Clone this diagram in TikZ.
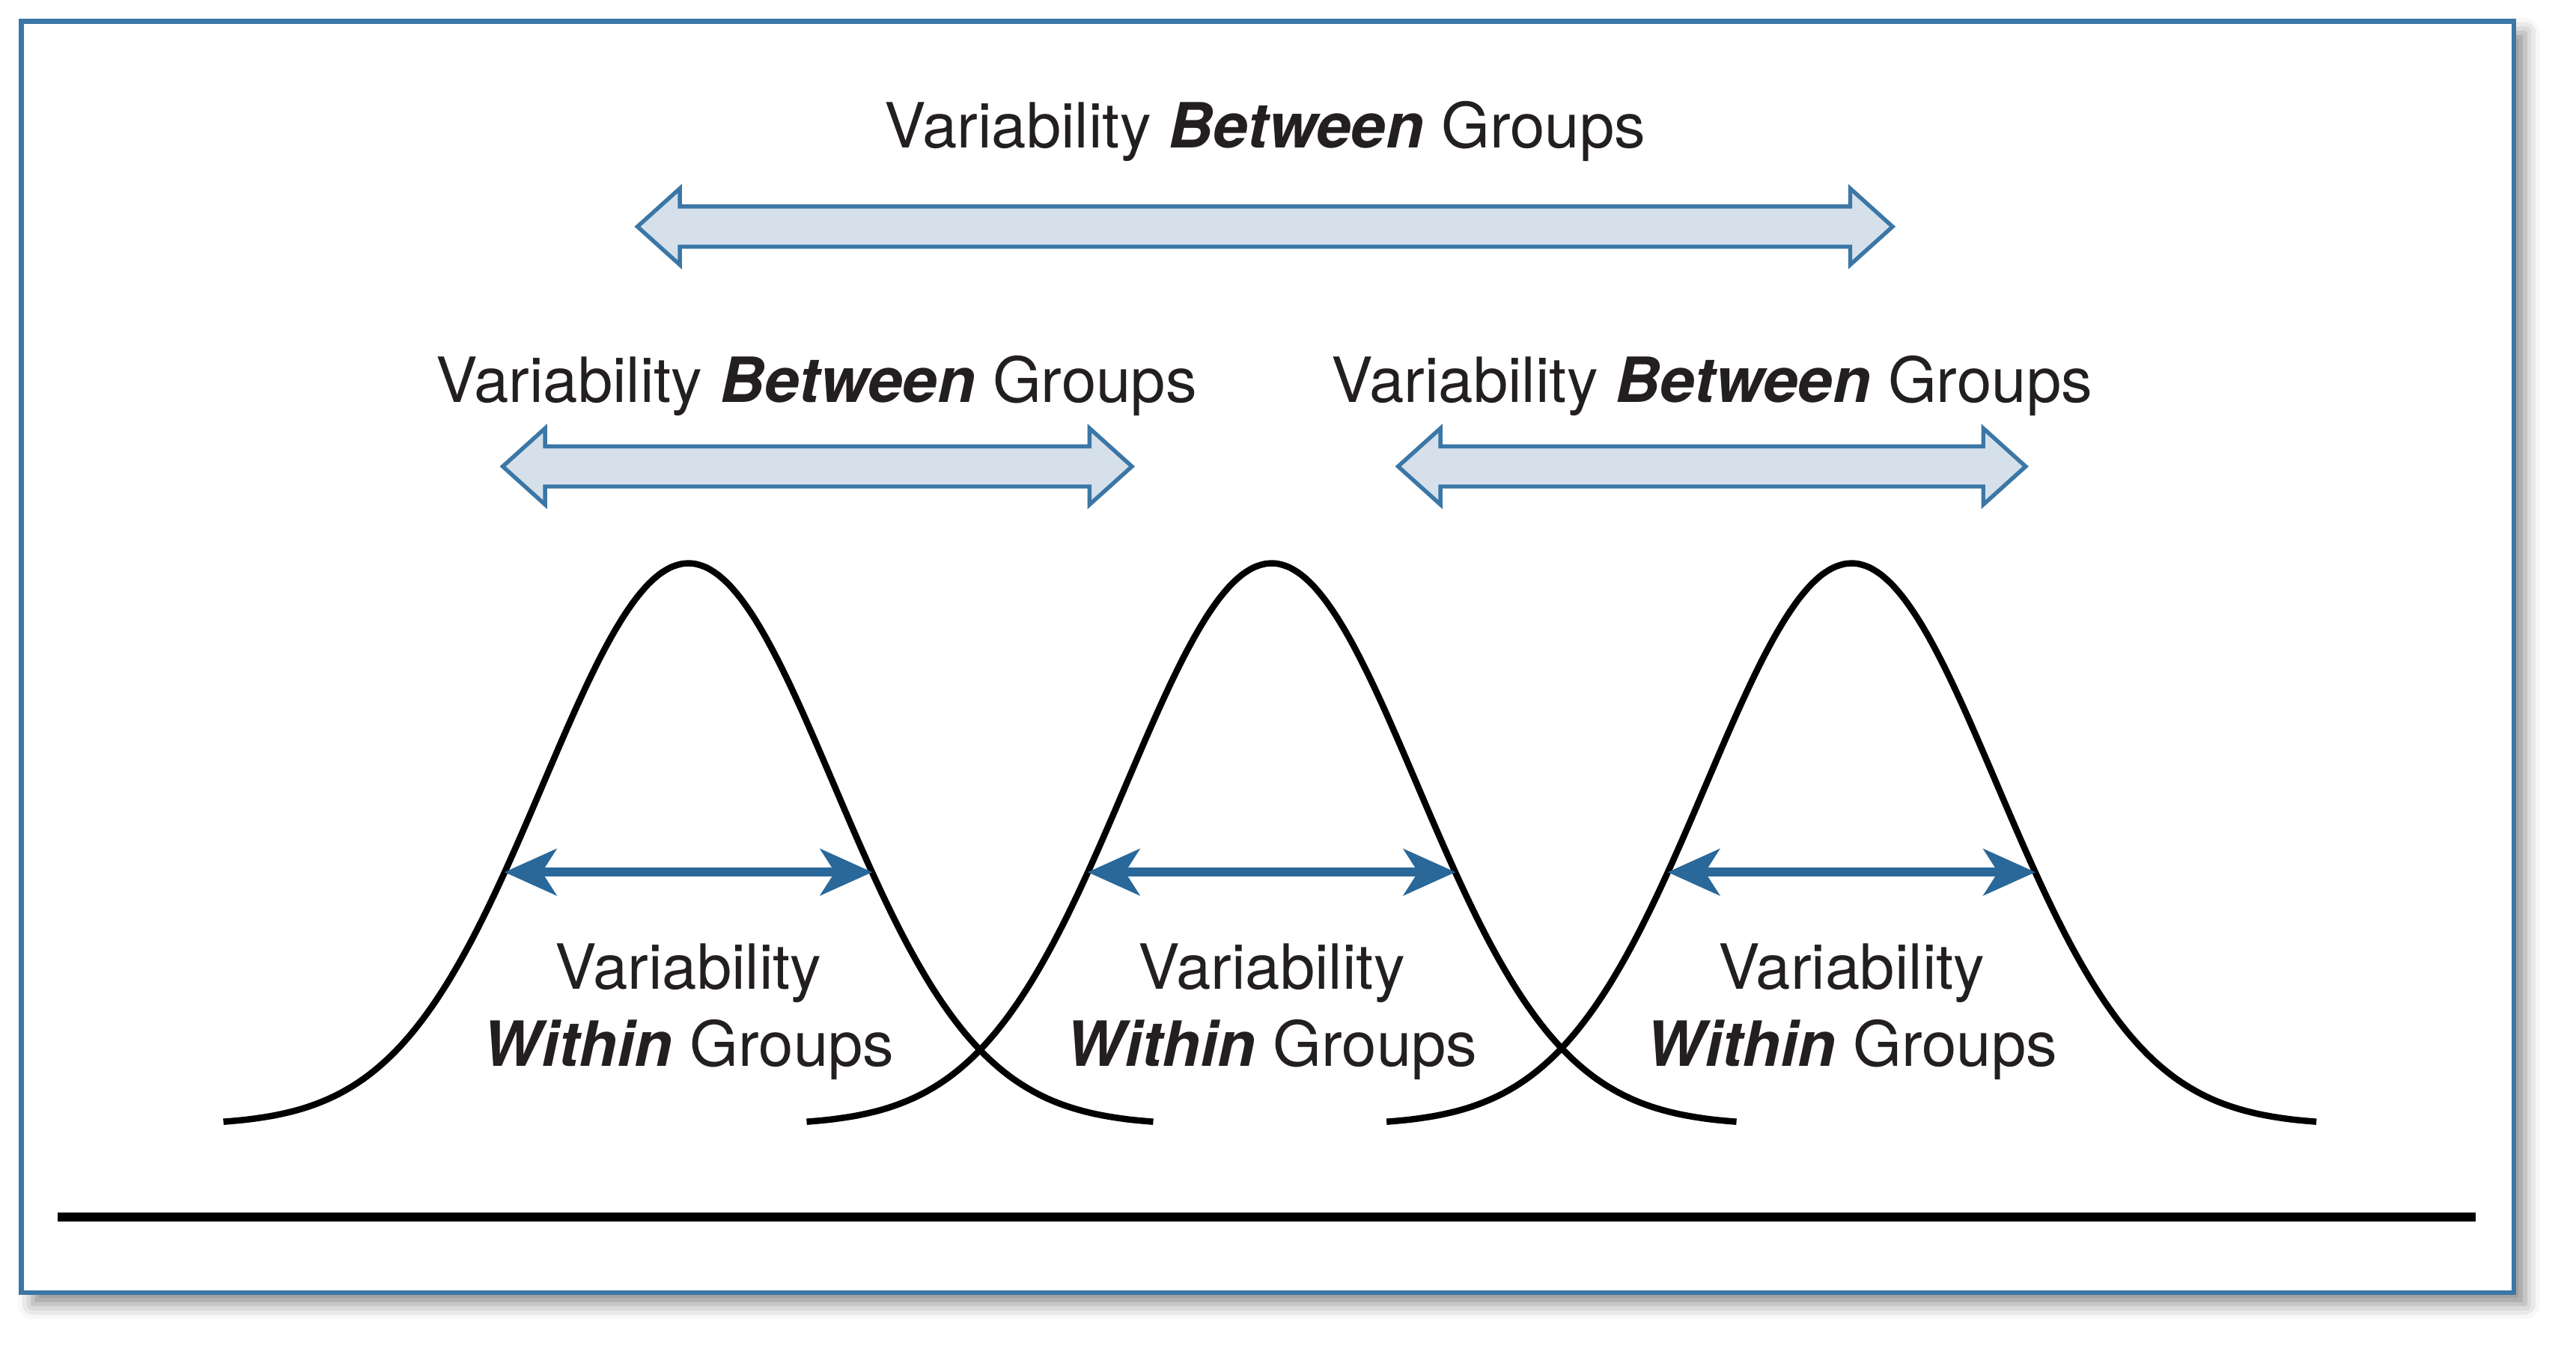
\documentclass[tikz,border=0pt]{standalone}
\usepackage{fontspec}
\setmainfont{TeX Gyre Heros}
\usetikzlibrary{shapes.arrows,arrows.meta,shadows.blur}
\definecolor{frameblue}{HTML}{3B77A6}
\definecolor{arrowfill}{HTML}{D6E0EB}
\definecolor{withinblue}{HTML}{2A6899}
\definecolor{textgray}{HTML}{231F20}
\tikzset{
    between arrow/.style={double arrow, draw=frameblue, fill=arrowfill, line width=0.7pt,
        inner xsep=0pt, inner ysep=0.11cm, minimum width=0.44cm,
        double arrow head extend=0.11cm, double arrow tip angle=84},
    label text/.style={font=\fontsize{10.8}{13.3}\selectfont, text=textgray, inner sep=0pt},
    within arrow/.style={withinblue, line width=1.5pt,
        {Stealth[length=9pt,width=8pt,inset=2.5pt]}-{Stealth[length=9pt,width=8pt,inset=2.5pt]}},
    bell/.style={line width=1.1pt, smooth, samples=80},
}

\begin{document}
\begin{tikzpicture}
    \useasboundingbox (0,0) rectangle (15.68,8.24);
    \draw[frameblue, line width=0.8pt, fill=white,
        blur shadow={shadow xshift=0.07cm, shadow yshift=-0.07cm, shadow blur radius=0.09cm, shadow opacity=45}]
        (0.13,0.37) rectangle (15.30,8.11);
    \draw[line width=1.6pt] (0.35,0.83) -- (15.07,0.83);

    % variability between groups
    \node[label text, anchor=base] (between top) at (7.70,7.34) {Variability \textbf{\textit{Between}} Groups};
    \node[between arrow, minimum height=7.64cm] (arrow top) at (7.70,6.86) {};
    \node[label text, anchor=base] (between left) at (4.97,5.79) {Variability \textbf{\textit{Between}} Groups};
    \node[between arrow, minimum height=3.83cm] (arrow left) at (4.975,5.40) {};
    \node[label text, anchor=base] (between right) at (10.42,5.79) {Variability \textbf{\textit{Between}} Groups};
    \node[between arrow, minimum height=3.82cm] (arrow right) at (10.42,5.40) {};

    % the three groups
    \foreach \g/\c in {a/4.19, b/7.74, c/11.27} {
        \draw[bell, domain=-2.83:2.83] plot ({\c+\x}, {1.39+3.42*exp(-\x*\x/(2*0.885*0.885))});
        \coordinate (\g L) at ({\c-1.12},2.93);
        \coordinate (\g R) at ({\c+1.12},2.93);
        \draw[within arrow] (\g L) -- (\g R);
        \node[label text, align=center] (\g text) at (\c,2.08) {Variability\\\textbf{\textit{Within}} Groups};
    }
\end{tikzpicture}
\end{document}
